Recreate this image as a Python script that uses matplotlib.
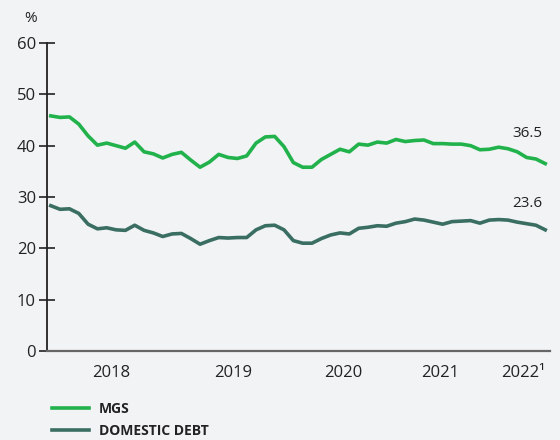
import matplotlib
matplotlib.use('Agg')
import matplotlib.pyplot as plt
import numpy as np

plt.rcParams['font.family'] = ['Open Sans', 'Noto Sans', 'DejaVu Sans']

# monthly ratios, mid-2017 to 2022
mgs = [45.8, 45.5, 45.6, 44.2, 41.9, 40.1, 40.5, 40.0, 39.5, 40.7,
       38.8, 38.4, 37.6, 38.3, 38.7, 37.2, 35.8, 36.8, 38.3, 37.7,
       37.5, 38.0, 40.5, 41.7, 41.8, 39.8, 36.7, 35.8, 35.8, 37.3,
       38.3, 39.3, 38.8, 40.3, 40.1, 40.7, 40.5, 41.2, 40.8, 41.0,
       41.1, 40.4, 40.4, 40.3, 40.3, 40.0, 39.2, 39.3, 39.7, 39.4,
       38.8, 37.7, 37.4, 36.5]
domestic = [28.3, 27.6, 27.7, 26.8, 24.7, 23.8, 24.0, 23.6, 23.5, 24.5,
            23.5, 23.0, 22.3, 22.8, 22.9, 21.9, 20.8, 21.5, 22.1, 22.0,
            22.1, 22.1, 23.6, 24.4, 24.5, 23.6, 21.5, 21.0, 21.0, 21.9,
            22.6, 23.0, 22.8, 23.9, 24.1, 24.4, 24.3, 24.9, 25.2, 25.7,
            25.5, 25.1, 24.7, 25.2, 25.3, 25.4, 24.9, 25.5, 25.6, 25.5,
            25.1, 24.8, 24.5, 23.6]
year_pos = [6.5, 19.5, 31.3, 41.7, 50.6]
year_labels = ['2018', '2019', '2020', '2021', '2022¹']
yticks = [0, 10, 20, 30, 40, 50, 60]

bg = '#f1f3f5'
c_mgs = '#22b24c'
c_dom = '#3b6e62'

fig = plt.figure(figsize=(5.6, 4.4), dpi=100, facecolor=bg)
ax = fig.add_axes([0.084, 0.2023, 0.898, 0.7])
ax.set_facecolor(bg)

x = np.arange(len(mgs))
ax.plot(x, mgs, color=c_mgs, lw=2.6, label='MGS', solid_joinstyle='round')
ax.plot(x, domestic, color=c_dom, lw=2.6, label='DOMESTIC DEBT', solid_joinstyle='round')

ax.annotate(f'{mgs[-1]:.1f}', (x[-1], mgs[-1]), xytext=(-13, 22),
            textcoords='offset points', ha='center', va='center',
            fontsize=11, color='#222222')
ax.annotate(f'{domestic[-1]:.1f}', (x[-1], domestic[-1]), xytext=(-13, 19),
            textcoords='offset points', ha='center', va='center',
            fontsize=11, color='#222222')

ax.set_xlim(-0.4, 53.5)
ax.set_ylim(0, 60)
ax.set_yticks(yticks)
ax.set_xticks(year_pos)
ax.set_xticklabels(year_labels)
ax.tick_params(axis='y', direction='inout', length=12, width=1.2,
               labelsize=12, colors='#222222', pad=2)
ax.tick_params(axis='x', length=0, labelsize=12, colors='#222222', pad=10)
for s in ['top', 'right']:
    ax.spines[s].set_visible(False)
ax.spines['left'].set_color('#222222')
ax.spines['left'].set_linewidth(1.3)
ax.spines['bottom'].set_color('#666666')
ax.spines['bottom'].set_linewidth(1.6)

fig.text(0.043, 0.958, '%', fontsize=11, color='#222222', ha='left', va='center')

leg = ax.legend(loc='upper left', bbox_to_anchor=(-0.015, -0.125), frameon=False,
                handlelength=2.7, handletextpad=0.7, labelspacing=0.6,
                prop={'weight': 'bold', 'size': 10})
for t in leg.get_texts():
    t.set_color('#222222')

fig.savefig('out.png', dpi=100, facecolor=bg)
